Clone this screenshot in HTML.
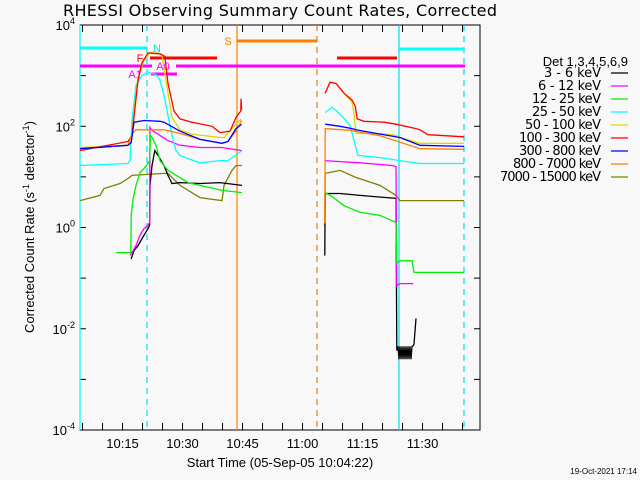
<!DOCTYPE html>
<html><head><meta charset="utf-8"><style>
html,body{margin:0;padding:0;background:#f8f8f8;}
svg{display:block;font-family:"Liberation Sans",sans-serif;}
</style></head><body>
<svg id="chart" width="640" height="480" viewBox="0 0 640 480">
<rect x="0" y="0" width="640" height="480" fill="#f8f8f8"/>
<text x="280" y="16" font-size="16" text-anchor="middle" fill="#000" style="font-family:'DejaVu Sans',sans-serif" textLength="434">RHESSI Observing Summary Count Rates, Corrected</text>
<g id="axes"></g>
<g id="flags"></g>
<g id="series"></g>
<g id="legend"></g>
<text x="280" y="467" font-size="13" text-anchor="middle">Start Time (05-Sep-05 10:04:22)</text>
<text transform="translate(34,227) rotate(-90)" font-size="13" text-anchor="middle">Corrected Count Rate (s<tspan dy="-5" font-size="9">-1</tspan><tspan dy="5"> detector</tspan><tspan dy="-5" font-size="9">-1</tspan><tspan dy="5">)</tspan></text>
<text x="637" y="474" font-size="8" text-anchor="end">19-Oct-2021 17:14</text>
</svg>
<script>
// ---- data (time in minutes after 10:04:22, values in counts/s/detector) ----
const xTickLabels = ["10:15","10:30","10:45","11:00","11:15","11:30"];
const xTickMinutes = [10.633,25.633,40.633,55.633,70.633,85.633];
const yTickExps = [-4,-2,0,2,4];
const legendLabels = ["3 - 6 keV","6 - 12 keV","12 - 25 keV","25 - 50 keV","50 - 100 keV","100 - 300 keV","300 - 800 keV","800 - 7000 keV","7000 - 15000 keV"];
const seriesColors = ["#000000","#ff00ff","#00ee00","#00ffff","#d8d800","#ff0000","#0000ff","#ff8000","#808000"];

const tBlack = [12.8,13.5,14.5,16,17,17.4,17.5,18,18.7,19.5,21,22,23,25,30,35,40.5,null,61.2,61.3,65,70,79,79.2,79.5,79.75,80,80.25,80.5,80.75,81,81.25,81.5,81.75,82,82.25,82.5,82.75,83,83.3,83.5,84];
const vBlack = [0.24,0.35,0.44,0.70,0.95,1.1,6.8,16.8,33,26.5,16.8,10.7,7.4,7.7,7.4,7.7,6.8,null,0.28,4.7,4.7,4.3,3.75,0.0037,0.0045,0.0025,0.0045,0.0025,0.0045,0.0025,0.0045,0.0025,0.0045,0.0025,0.0045,0.0025,0.0045,0.0025,0.0045,0.0046,0.005,0.016];
const tMagenta = [12.5,13,14,15,16,17,17.4,17.5,18,20,22,25,30,35.5,40.5,null,61.3,65,70,78,79,79.2,80,83.3];
const vMagenta = [0.28,0.32,0.44,0.70,0.95,1.1,1.26,95,83,66,52,42,38,38,33,null,21,20,19,16.8,16,0.071,0.078,0.078];
const tGreen = [9,12.7,12.8,13.2,14,15,16,17,17.4,17.6,18,19,20,22,27,35.5,40.5,null,61.3,63,66,70,75,79,79.2,80,83,83.5,96];
const vGreen = [0.32,0.32,1.73,3.4,6.8,12.2,14.7,18.4,21,66,60,42,21,13.4,7.7,5.4,4.9,null,4.9,4.1,2.7,2.0,1.73,1.26,0.20,0.22,0.22,0.13,0.13];
const tCyan = [0,12,12.5,13,14,15.5,17,19,20,21,22,23,24,25,27,30,35,37,40.5,null,61.3,63,64,66,67.5,68.5,69.5,75,80,85,96];
const vCyan = [16.8,18.4,21,130,640,1010,1157,1056,804,406,163,66,33,26.5,23,19,21,21,33,null,187,235,205,143,104,52,26.5,24,21,18.4,18.4];
const tYellow = [0,12,12.8,13.5,14.5,16,17.5,19,20.5,21.5,23,25,28,35,36,38,40.3,null,61.3,62.5,64,66,68,68.5,69,75,79,80,85,96];
const vYellow = [38,42,45,200,900,2000,2900,3000,2500,800,150,85,70,60,60,90,140,null,450,740,700,450,300,180,72,72,66,60,46,46];
const tRed = [0,12,13,13.8,14.5,15.5,17,20,21.2,22,23.5,25,28,33,35,37.5,39,40.2,40.25,40.4,null,61.3,62.5,64,66,68,68.8,69.3,71,76,79,84,85,87,96];
const vRed = [33,50,66,250,800,1800,2800,2700,2400,700,200,140,120,100,75,80,150,200,350,210,null,450,740,700,450,330,250,140,125,120,110,90,85,68,62];
const tBlue = [0,12,12.8,13.5,16,20,21,25,30,35.5,37,39,40.4,null,61.3,65,68,69,75,80,85,96];
const vBlue = [36,42,48,120,130,125,120,80,55,46,50,90,110,null,110,100,90,85,70,60,42,40];
const tOrange = [0,12,13,14,21,25,30,35.5,37,39,40.4,null,61.2,61.3,67.5,75,78.8,85,96];
const vOrange = [36,42,70,85,85,72,55,46,50,80,130,null,1.2,90,83,65,52,36,35];
const tOlive = [0,5,6,10,12,13,21,22,25,30,35.5,36,38,39,40.5,null,61.2,61.3,65,69,75,79,80,96];
const vOlive = [3.4,4.3,5.9,7.4,9.3,10.7,11.7,11.7,6.8,3.9,3.4,6.8,13.4,16.8,16.8,null,1.1,11.7,13.4,9.7,6.8,4.3,3.4,3.4];

const NS="http://www.w3.org/2000/svg";
const X0=80,X1=480,Y0=25,Y1=430;
function xs(t){return X0+t*4;}
function ys(v){return 430-(Math.log10(v)+4)*(405/8);}
function mk(tag,attrs,parent){const e=document.createElementNS(NS,tag);for(const k in attrs)e.setAttribute(k,attrs[k]);parent.appendChild(e);return e;}

const axes=document.getElementById('axes');
let fr=mk('rect',{x:X0,y:Y0,width:X1-X0,height:Y1-Y0,fill:'none',stroke:'#000','stroke-width':1},axes);


for(let m=0.633;m<=100;m+=5){
  const x=xs(m);
  let t1=mk('line',{x1:x,y1:Y1,x2:x,y2:Y1-7,stroke:'#000'},axes);
  
  
  let t2=mk('line',{x1:x,y1:Y0,x2:x,y2:Y0+7,stroke:'#000'},axes);
  
  
}
xTickLabels.forEach((l,i)=>{
  let t=mk('text',{x:xs(xTickMinutes[i]),y:448,'font-size':13,'text-anchor':'middle'},axes);
  t.textContent=l;
  
  
});
for(let e=-4;e<=4;e++){
  const y=ys(Math.pow(10,e));
  let a=mk('line',{x1:X0,y1:y,x2:X0+6,y2:y,stroke:'#000'},axes);
  
  
  let b=mk('line',{x1:X1,y1:y,x2:X1-6,y2:y,stroke:'#000'},axes);
  
  
}
yTickExps.forEach(e=>{
  const y=ys(Math.pow(10,e));
  let t=mk('text',{x:75,y:y+5,'font-size':13,'text-anchor':'end'},axes);
  t.innerHTML='10<tspan dy="-6" font-size="9">'+e+'</tspan>';
  
  
});
const vl=[[80,'#00ffff',''],[147,'#00e0e0','6,5'],[237,'#ff8000',''],[317,'#e08020','6,5'],[399,'#00e0e0',''],[464,'#00e0e0','6,5']];
vl.forEach(v=>{
  let l=mk('line',{x1:v[0],y1:Y0,x2:v[0],y2:Y1,stroke:v[1],'stroke-width':1.2,'stroke-dasharray':v[2]},axes);
  
  
});
const flags=document.getElementById('flags');
const bars=[[80,147,48,'#00ffff'],[399,464,49,'#00ffff'],[237,317,41,'#ff8000'],[150,217,58,'#ff0000'],[337,397,58,'#ff0000'],[80,152,66,'#ff00ff'],[176,465,66,'#ff00ff'],[151,177,74,'#ff00ff']];
bars.forEach(b=>{
  let l=mk('line',{x1:b[0],y1:b[2],x2:b[1],y2:b[2],stroke:b[3],'stroke-width':3},flags);
  
  
});
const fl=[['N',157,52,'#00e0e0'],['S',228,45,'#ff8000'],['F',140,62,'#ff0000'],['A0',163,70,'#ff00ff'],['A1',135,78,'#ff00ff']];
fl.forEach(f=>{
  let t=mk('text',{x:f[1],y:f[2],'font-size':11,fill:f[3],'text-anchor':'middle'},flags);
  t.textContent=f[0];
  
  
});
const sg=document.getElementById('series');
const allT=[tBlack,tMagenta,tGreen,tCyan,tYellow,tRed,tBlue,tOrange,tOlive];
const allV=[vBlack,vMagenta,vGreen,vCyan,vYellow,vRed,vBlue,vOrange,vOlive];
const order=[8,0,1,2,3,4,5,7,6];
order.forEach(i=>{
  let d='',pen=false;
  allT[i].forEach((t,j)=>{
    const v=allV[i][j];
    if(t===null||v===null){pen=false;return;}
    d+=(pen?'L':'M')+xs(t).toFixed(1)+' '+ys(v).toFixed(1)+' ';
    pen=true;
  });
  let p=mk('path',{d:d,fill:'none',stroke:seriesColors[i],'stroke-width':1.3},sg);
  
  
});
const lg=document.getElementById('legend');
let h=mk('text',{x:628,y:66,'font-size':13,'text-anchor':'end'},lg);
h.textContent='Det 1,3,4,5,6,9';


legendLabels.forEach((l,i)=>{
  const y=73+i*13;
  let t=mk('text',{x:601,y:y+4,'font-size':13,'text-anchor':'end','font-family':'DejaVu Sans, sans-serif','textLength':(l.length*6.3).toFixed(0)},lg);
  t.textContent=l;
  
  
  let s=mk('line',{x1:611,y1:y,x2:628,y2:y,stroke:seriesColors[i],'stroke-width':1.3},lg);
  
  
});
</script>
</body></html>
